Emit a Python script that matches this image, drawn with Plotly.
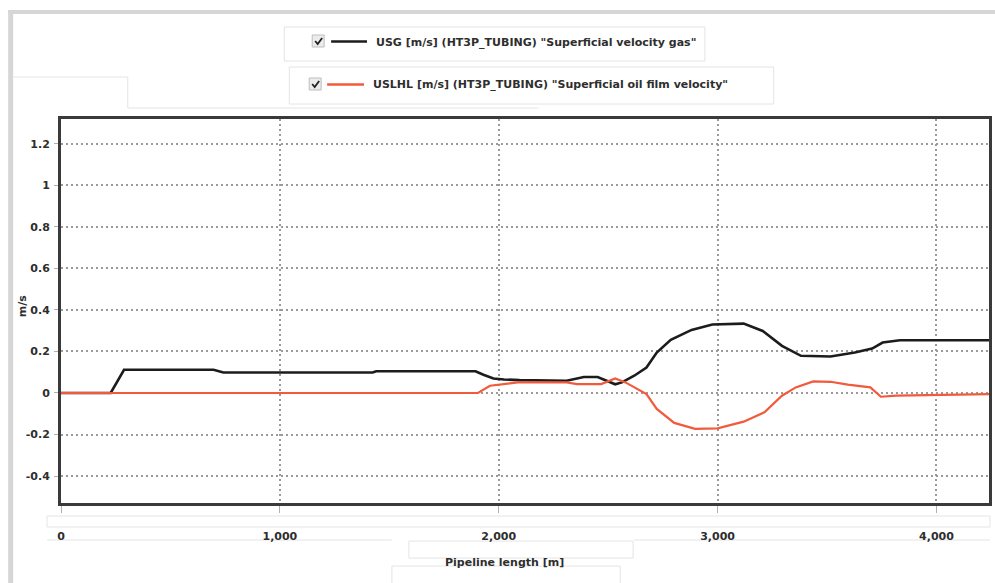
import plotly.graph_objects as go

# ---------------- data ----------------
usg_x = [0, 227, 288, 697, 742, 1424, 1440, 1894, 1930, 1976, 2024, 2095, 2310, 2389,
         2452, 2500, 2532, 2563, 2619, 2675, 2722, 2786, 2881, 2976, 3119, 3206, 3294,
         3381, 3516, 3627, 3706, 3754, 3833, 4240]
usg_y = [0, 0, 0.112, 0.112, 0.099, 0.099, 0.105, 0.105, 0.088, 0.07, 0.065, 0.062, 0.059,
         0.077, 0.077, 0.054, 0.042, 0.051, 0.083, 0.123, 0.195, 0.256, 0.304, 0.33, 0.334,
         0.299, 0.227, 0.179, 0.176, 0.195, 0.214, 0.243, 0.254, 0.254]

uslhl_x = [0, 1905, 1960, 2087, 2310, 2357, 2468, 2532, 2579, 2675, 2722, 2802, 2897, 3000,
           3119, 3214, 3294, 3357, 3437, 3516, 3595, 3698, 3746, 3817, 4240]
uslhl_y = [0, 0, 0.035, 0.051, 0.051, 0.043, 0.043, 0.070, 0.051, -0.005, -0.077, -0.144,
           -0.173, -0.170, -0.138, -0.093, -0.013, 0.027, 0.056, 0.054, 0.040, 0.027,
           -0.018, -0.013, -0.005]

usg_name = 'USG [m/s] (HT3P_TUBING) "Superficial velocity gas"'
uslhl_name = 'USLHL [m/s] (HT3P_TUBING) "Superficial oil film velocity"'

x_tickvals = [0, 1000, 2000, 3000, 4000]
x_ticktext = ["0", "1,000", "2,000", "3,000", "4,000"]
y_tickvals = [-0.4, -0.2, 0, 0.2, 0.4, 0.6, 0.8, 1.0, 1.2]
y_ticktext = ["-0.4", "-0.2", "0", "0.2", "0.4", "0.6", "0.8", "1", "1.2"]
x_title = "Pipeline length [m]"
y_title = "m/s"

# ---------------- layout geometry (pixels) ----------------
FW, FH = 995, 583
L, R, T, B = 61, 992, 119, 503
PW, PH = R - L, B - T


def px(x):
    return (x - L) / PW


def py(y):
    return (B - y) / PH


FONT = "DejaVu Sans"
TXT = "#2e2e2e"
BLACK = "#1c1c1c"
RED = "#f25a3c"

fig = go.Figure()
fig.add_trace(go.Scatter(x=usg_x, y=usg_y, mode="lines", name=usg_name,
                         line=dict(color=BLACK, width=2.6), showlegend=False))
fig.add_trace(go.Scatter(x=uslhl_x, y=uslhl_y, mode="lines", name=uslhl_name,
                         line=dict(color=RED, width=2.2), showlegend=False))

shapes = []
faint = "#e4e4e4"
# outer grey frame
shapes.append(dict(type="rect", xref="paper", yref="paper", x0=px(8), x1=px(FW + 5),
                   y0=py(14), y1=py(10), fillcolor="#d6d6d6", line=dict(width=0), layer="below"))
shapes.append(dict(type="rect", xref="paper", yref="paper", x0=px(8), x1=px(13),
                   y0=py(FH + 5), y1=py(10), fillcolor="#d6d6d6", line=dict(width=0), layer="below"))
# faint UI boxes
for (x0, y0, x1, y1) in [(285, 27, 707, 61), (290, 67, 776, 104), (47, 516, 993, 527),
                         (410, 541, 635, 558), (393, 566, 622, 590)]:
    shapes.append(dict(type="rect", xref="paper", yref="paper", x0=px(x0), x1=px(x1),
                       y0=py(y1), y1=py(y0), line=dict(color=faint, width=1), layer="below"))
for (x0, y0, x1, y1) in [(13, 77, 128, 77), (128, 77, 128, 108), (128, 108, 540, 108),
                         (47, 540, 393, 540), (636, 540, 993, 540)]:
    shapes.append(dict(type="line", xref="paper", yref="paper", x0=px(x0), x1=px(x1),
                       y0=py(y0), y1=py(y1), line=dict(color=faint, width=1), layer="below"))

# legend glyphs: checkboxes, check marks and line samples
for (cx, cy, lx0, lx1, col) in [(313, 35, 332, 368, BLACK), (310, 78, 328, 365, RED)]:
    shapes.append(dict(type="rect", xref="paper", yref="paper", x0=px(cx), x1=px(cx + 12),
                       y0=py(cy + 12), y1=py(cy), fillcolor="#ececec",
                       line=dict(color="#bdbdbd", width=1)))
    shapes.append(dict(type="path", xref="paper", yref="paper",
                       path="M %f %f L %f %f L %f %f" % (px(cx + 3), py(cy + 6), px(cx + 5.5), py(cy + 9),
                                                       px(cx + 10), py(cy + 3)),
                       line=dict(color="#222222", width=1.8)))
    shapes.append(dict(type="line", xref="paper", yref="paper", x0=px(lx0), x1=px(lx1),
                       y0=py(cy + 6.5), y1=py(cy + 6.5), line=dict(color=col, width=2.4)))

annotations = [
    dict(text="<b>%s</b>" % usg_name, xref="paper", yref="paper", x=px(375), y=py(42),
         xanchor="left", yanchor="middle", showarrow=False, font=dict(family=FONT, size=11, color=TXT)),
    dict(text="<b>%s</b>" % uslhl_name, xref="paper", yref="paper", x=px(372), y=py(85),
         xanchor="left", yanchor="middle", showarrow=False, font=dict(family=FONT, size=11, color=TXT)),
    dict(text="<b>%s</b>" % x_title, xref="paper", yref="paper", x=px(506), y=py(562),
         xanchor="center", yanchor="middle", showarrow=False, font=dict(family=FONT, size=11, color=TXT)),
    dict(text="<b>%s</b>" % y_title, xref="paper", yref="paper", x=px(22), y=py(306),
         xanchor="center", yanchor="middle", showarrow=False, textangle=-90,
         font=dict(family=FONT, size=11, color=TXT)),
]

axis_common = dict(showline=True, mirror=True, linecolor="#3a3a3a", linewidth=3,
                   showgrid=True, gridcolor="#9a9a9a", griddash="2px,3px", gridwidth=1.5,
                   zeroline=False, ticks="outside", tickcolor="#b0b0b0",
                   tickfont=dict(family=FONT, size=11, color=TXT))

fig.update_layout(
    width=FW, height=FH, autosize=False,
    margin=dict(l=L, r=FW - R, t=T, b=FH - B, pad=0),
    paper_bgcolor="white", plot_bgcolor="white",
    shapes=shapes, annotations=annotations,
    xaxis=dict(range=[0, 4240], tickmode="array", tickvals=x_tickvals,
               ticktext=["<b>%s</b>" % t for t in x_ticktext], ticklen=7,
               ticklabelstandoff=14, **axis_common),
    yaxis=dict(range=[-0.53, 1.32], tickmode="array", tickvals=y_tickvals,
               ticktext=["<b>%s</b>" % t for t in y_ticktext], ticklen=4,
               ticklabelstandoff=2, **axis_common),
    showlegend=False,
)

fig.write_html("out.html", config={"displayModeBar": False},
               post_script="document.body.style.margin='0';")
